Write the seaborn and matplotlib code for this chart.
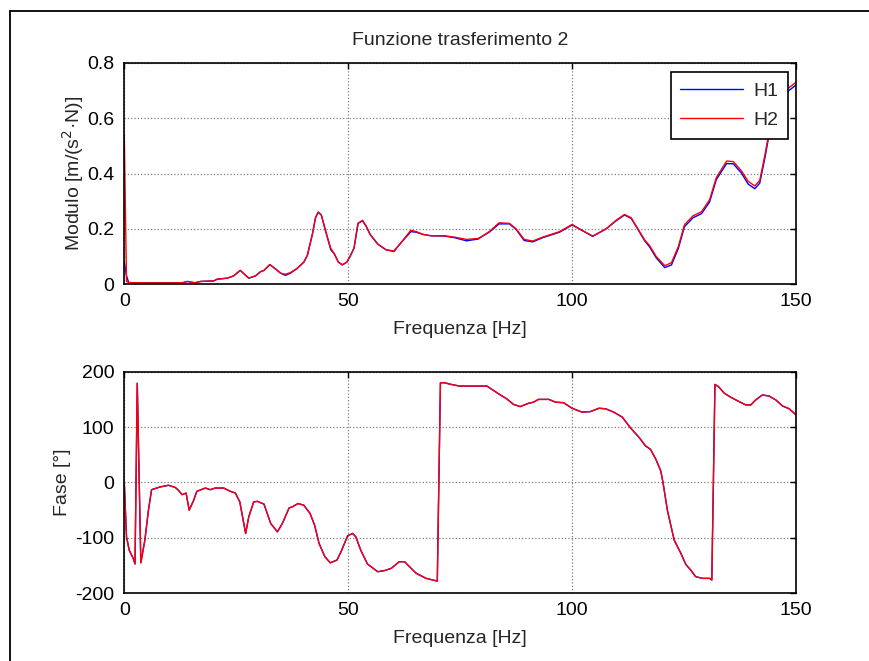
import numpy as np
import pandas as pd
import matplotlib
matplotlib.use("Agg")
import matplotlib.pyplot as plt
from matplotlib.lines import Line2D
import seaborn as sns

# Frequency axis of the modulus estimate [Hz]
freq_mod = [0, 0.5, 1, 3, 6, 9, 12, 13.2, 14.1, 15.8, 17, 20, 20.7, 23, 24.4, 25.9, 27.8, 29.3,
            30.4, 31.2, 32.5, 33.8, 34.9, 36, 37.1, 38.6, 40.1, 40.9, 42, 42.7, 43.3, 44, 45,
            46.1, 46.9, 47.8, 48.7, 49.7, 50.4, 51.3, 52.2, 53.2, 54, 54.9, 56.6, 58.4, 60.2,
            61.8, 64, 65.2, 66.7, 68.5, 71.5, 73.8, 76.4, 79, 80.1, 81.5, 83.7, 86, 87.5, 89.3,
            91.2, 93.4, 97.2, 100, 101.6, 104.6, 107.6, 109.9, 111.7, 113.2, 114.7, 116.2,
            117.3, 118.8, 120.7, 122.2, 123.7, 125.1, 127, 128.9, 130.7, 132.2, 134.5, 136,
            137.8, 139.3, 140.8, 141.9, 143.1, 144.2, 145, 146, 147, 148, 149, 150]

# |H1| [m/(s^2 N)]
mod_h1 = [0.08, 0.03, 0.006, 0.005, 0.005, 0.005, 0.005, 0.006, 0.01, 0.005, 0.01, 0.012, 0.018,
          0.022, 0.03, 0.05, 0.022, 0.03, 0.045, 0.05,
          0.071, 0.055, 0.04, 0.032, 0.04, 0.057, 0.08, 0.105, 0.18, 0.24,
          0.26, 0.25, 0.19, 0.125, 0.11, 0.08, 0.07, 0.08, 0.1, 0.13,
          0.22, 0.229, 0.21, 0.18, 0.145, 0.125, 0.118, 0.15, 0.19, 0.188,
          0.18, 0.175, 0.174, 0.168, 0.157, 0.163, 0.175, 0.188, 0.218, 0.218,
          0.198, 0.158, 0.153, 0.168, 0.188, 0.214, 0.2, 0.173, 0.2, 0.23,
          0.25, 0.238, 0.198, 0.157, 0.135, 0.095, 0.06, 0.07, 0.128, 0.208,
          0.24, 0.255, 0.297, 0.378, 0.436, 0.435, 0.402, 0.362, 0.345, 0.365,
          0.46, 0.56, 0.61, 0.65, 0.68, 0.695, 0.707, 0.72]

# |H2| [m/(s^2 N)]
mod_h2 = [0.54, 0.01, 0.006, 0.005, 0.005, 0.005, 0.005, 0.006, 0.01, 0.005, 0.01, 0.012, 0.018,
          0.022, 0.03, 0.05, 0.022, 0.03, 0.045, 0.05,
          0.071, 0.055, 0.04, 0.036, 0.042, 0.057, 0.08, 0.105, 0.18, 0.24,
          0.261, 0.25, 0.19, 0.13, 0.11, 0.08, 0.07, 0.08, 0.1, 0.13,
          0.22, 0.231, 0.21, 0.18, 0.145, 0.125, 0.12, 0.15, 0.195, 0.19,
          0.18, 0.175, 0.175, 0.17, 0.162, 0.165, 0.175, 0.19, 0.222, 0.22,
          0.2, 0.162, 0.156, 0.17, 0.19, 0.216, 0.2, 0.174, 0.2, 0.232,
          0.252, 0.24, 0.2, 0.16, 0.14, 0.1, 0.067, 0.078, 0.135, 0.215,
          0.247, 0.262, 0.305, 0.385, 0.445, 0.443, 0.41, 0.372, 0.355, 0.375,
          0.47, 0.57, 0.62, 0.66, 0.69, 0.705, 0.717, 0.73]

# Frequency axis of the phase estimate [Hz]
freq_ph = [0, 0.5, 1.1, 2, 2.4, 2.9, 3.7, 4.6, 5.4, 6.1, 8, 9.9, 11.4, 12.1, 12.9, 13.8, 14.5,
           15.5, 16.2, 18.1, 19.2, 20.3, 22.2, 23.7, 24.8, 25.8, 27.1, 27.8, 28.9, 29.7, 31.2,
           32.7, 34.2, 35.3, 36.8, 37.5, 38.8, 40.1, 41.5, 42.5, 43.5, 44.8, 46, 47.5, 48.4,
           49.9, 51, 51.7, 52.8, 54.3, 56.6, 58.1, 59.6, 61.4, 62.6, 63.7, 65.2, 67.4, 69.9,
           70.6, 71.5, 73, 74.9, 76.1, 81, 82.1, 83.6, 85.4, 86.9, 88.4, 90.3, 91.4, 92.5,
           94.8, 96.3, 98.1, 100, 102.2, 104.1, 106, 107.5, 109.3, 111.2, 113.1, 115, 116.4,
           117.5, 118.7, 119.8, 120.3, 121.3, 122.8, 124.3, 125.4, 126.5, 127.6, 129.1, 130.7,
           131.2, 131.9, 132.7, 134, 135.4, 137.3, 138.8, 139.9, 141, 142.5, 144, 145.5, 147,
           148.5, 150]

# Phase of H2 [deg]
phase_h2 = [0, -98, -122, -137, -147, 179, -145, -104, -50, -13, -8, -5, -9, -14, -22, -19, -50,
            -32, -16, -10, -13, -10, -10, -16, -19, -35, -92, -62, -35, -34, -39, -74, -89, -74,
            -46, -44, -38, -41, -56, -77, -110, -134, -145, -140, -125, -96, -92, -98, -122,
            -147, -161, -159, -155, -143, -143, -152, -164, -173, -178, 180, 180, 177, 174, 174,
            174, 168, 160, 151, 141, 137, 143, 145, 150, 150, 145, 144, 134, 127, 128, 134, 133,
            127, 118, 98, 81, 66, 60, 42, 21, 0, -51, -104, -128, -148, -158, -170, -173, -173,
            -176, 177, 173, 161, 154, 146, 140, 140, 149, 158, 156, 149, 138, 133, 122]

# Phase of H1 [deg]: the two estimators share the same phase
phase_h1 = list(phase_h2)

series_names = ["H1", "H2"]
series_colors = {"H1": "#0000ff", "H2": "#ff0000"}

mod_df = pd.concat([
    pd.DataFrame({"f": freq_mod, "val": mod_h1, "serie": "H1"}),
    pd.DataFrame({"f": freq_mod, "val": mod_h2, "serie": "H2"}),
], ignore_index=True)
ph_df = pd.concat([
    pd.DataFrame({"f": freq_ph, "val": phase_h1, "serie": "H1"}),
    pd.DataFrame({"f": freq_ph, "val": phase_h2, "serie": "H2"}),
], ignore_index=True)

FS = 14

sns.set_style("white")
plt.rcParams["font.family"] = ["Liberation Sans", "DejaVu Sans"]
plt.rcParams["font.size"] = FS
plt.rcParams["axes.unicode_minus"] = False
plt.rcParams["xtick.direction"] = "in"
plt.rcParams["ytick.direction"] = "in"

fig = plt.figure(figsize=(8.69, 6.61), dpi=100)
fig.patch.set_facecolor("white")
ax1 = fig.add_axes([0.143, 0.570, 0.773, 0.335])
ax2 = fig.add_axes([0.143, 0.1024, 0.773, 0.3353])

for ax, df in ((ax1, mod_df), (ax2, ph_df)):
    sns.lineplot(data=df, x="f", y="val", hue="serie", hue_order=series_names,
                 palette=series_colors, estimator=None, sort=False, linewidth=1.0,
                 ax=ax, legend=(ax is ax1))
    ax.set_xlim(0, 150)
    ax.set_xticks([0, 50, 100, 150])
    ax.grid(True, linestyle=":", color="#7f7f7f", linewidth=0.9)
    ax.tick_params(axis="x", which="both", top=True, length=4, width=1.0, color="black",
                   labelsize=FS, pad=6, labelcolor="black")
    ax.tick_params(axis="y", which="both", right=True, length=4, width=1.0, color="black",
                   labelsize=FS, pad=7, labelcolor="black")
    for sp in ax.spines.values():
        sp.set_visible(True)
        sp.set_color("black")
        sp.set_linewidth(1.2)
    ax.set_xlabel("Frequenza [Hz]", fontsize=FS, labelpad=8)
    ax.set_facecolor("white")

ax1.set_ylim(0, 0.8)
ax1.set_yticks([0, 0.2, 0.4, 0.6, 0.8])
ax1.set_yticklabels(["0", "0.2", "0.4", "0.6", "0.8"])
ax1.set_ylabel("Modulo [m/(s$^2$·N)]", fontsize=FS, labelpad=1)
ax1.set_title("Funzione trasferimento 2", fontsize=FS, pad=13)

ax2.set_ylim(-200, 200)
ax2.set_yticks([-200, -100, 0, 100, 200])
ax2.set_ylabel("Fase [°]", fontsize=FS, labelpad=3)

leg = ax1.legend(loc="upper right", bbox_to_anchor=(0.988, 0.957), borderaxespad=0,
                 fancybox=False, frameon=True, edgecolor="black", framealpha=1,
                 handlelength=3.2, handletextpad=0.55, labelspacing=0.6,
                 borderpad=0.5, fontsize=FS)
leg.get_frame().set_linewidth(1.2)
leg.set_zorder(10)

# Window frame on the left and top edges
fig.add_artist(Line2D([0.011, 0.011], [0.0, 0.984], transform=fig.transFigure,
                      color="black", linewidth=1.3))
fig.add_artist(Line2D([0.011, 1.0], [0.984, 0.984], transform=fig.transFigure,
                      color="black", linewidth=1.3))

fig.savefig("out.png", dpi=100, facecolor="white")
